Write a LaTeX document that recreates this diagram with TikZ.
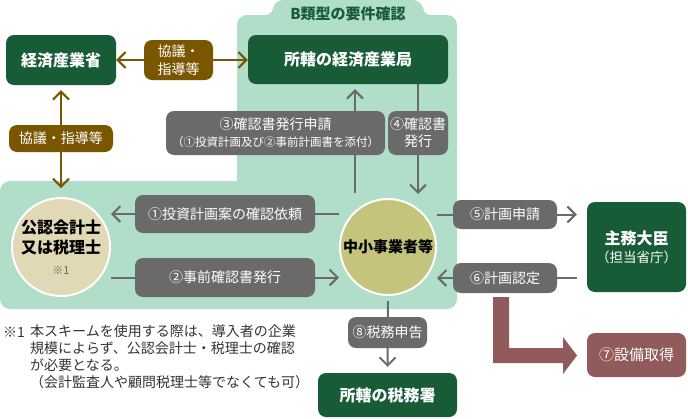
\documentclass[tikz,border=0pt]{standalone}
\usepackage{fontspec}
\setmainfont{Noto Sans CJK JP}
\usetikzlibrary{arrows.meta}
\definecolor{dgreen}{HTML}{175C37}
\definecolor{lgreen}{HTML}{B0DEC8}
\definecolor{brownc}{HTML}{7A5600}
\definecolor{grayc}{HTML}{6A6A6A}
\definecolor{beige}{HTML}{E1D9B5}
\definecolor{olive}{HTML}{C4C47C}
\definecolor{rose}{HTML}{905B5A}
\definecolor{notec}{HTML}{333333}
\pgfdeclarelayer{bg}
\pgfdeclarelayer{lines}
\pgfsetlayers{bg,lines,main}
\begin{document}
\begin{tikzpicture}[x=1pt,y=-1pt,
  gbox/.style={fill=dgreen,rounded corners=8pt,text=white,font=\fontsize{16}{19}\selectfont\bfseries,inner sep=0pt,align=center},
  glabel/.style={fill=grayc,rounded corners=8pt,text=white,font=\fontsize{14}{17}\selectfont,inner sep=0pt,align=center},
  blabel/.style={fill=brownc,rounded corners=8pt,text=white,font=\fontsize{14}{18}\selectfont,inner sep=0pt,align=center},
  circ/.style={circle,draw=white,line width=2pt,inner sep=0pt,align=center,text=black,font=\fontsize{16}{20}\selectfont\bfseries},
  tipb/.style={Straight Barb[length=8pt,width=16pt]},
  garr/.style={draw=grayc,line width=2pt,-{Straight Barb[length=8pt,width=16pt]}},
  barr/.style={draw=brownc,line width=2pt,{Straight Barb[length=8pt,width=16pt]}-{Straight Barb[length=8pt,width=16pt]}},
]
\useasboundingbox (0,0) rectangle (688,418);

% green region
\begin{pgfonlayer}{bg}
\fill[lgreen, rounded corners=10pt] (237,15) rectangle (457,200);
\fill[lgreen, rounded corners=10pt] (0,181) rectangle (457,309);
\fill[lgreen, rounded corners=10pt] (273,0) rectangle (423,30);
\fill[lgreen] (265,7) rectangle (273,15);
\fill[white] (265,7) circle (8pt);
\fill[lgreen] (423,7) rectangle (431,15);
\fill[white] (431,7) circle (8pt);
\end{pgfonlayer}
\node[text=dgreen,font=\fontsize{15}{18}\selectfont\bfseries] (title) at (348,14) {B類型の要件確認};

% main nodes
\node[gbox,minimum width=110pt,minimum height=50pt] (keizai) at (61,60) {経済産業省};
\node[gbox,minimum width=200pt,minimum height=49pt] (kyoku) at (348,59.5) {所轄の経済産業局};
\node[circ,fill=beige,minimum size=98pt] (kounin) at (61,247) {公認会計士\\又は税理士\\[1pt]{\mdseries\fontsize{11}{13}\selectfont\color{grayc}※1}};
\node[circ,fill=olive,minimum size=96pt,font=\fontsize{15}{18}\selectfont\bfseries] (chu) at (388,247) {中小事業者等};
\node[gbox,minimum width=99pt,minimum height=90pt,font=\fontsize{16}{18}\selectfont\bfseries] (shumu) at (636.5,247) {主務大臣\\{\mdseries\fontsize{13.5}{16}\selectfont（担当省庁）}};
\node[fill=rose,rounded corners=8pt,text=white,inner sep=0pt,minimum width=99pt,minimum height=44pt,font=\fontsize{15}{18}\selectfont] (setsubi) at (636.5,355) {⑦設備取得};
\node[gbox,minimum width=139pt,minimum height=44pt] (zeimu) at (387.5,395) {所轄の税務署};

% labels
\node[blabel,minimum width=69pt,minimum height=40pt] (k1) at (178.5,60) {協議・\\指導等};
\node[blabel,minimum width=104pt,minimum height=27pt] (k2) at (61,138.5) {協議・指導等};
\node[glabel,minimum width=180pt,minimum height=38pt] (l1) at (225,214) {①投資計画案の確認依頼};
\node[glabel,minimum width=180pt,minimum height=39pt] (l2) at (225,277.5) {②事前確認書発行};
\node[glabel,minimum width=219pt,minimum height=44pt] (l3) at (275.5,133) {③確認書発行申請\\{\fontsize{11.5}{14}\selectfont（①投資計画及び②事前計画書を添付）}};
\node[glabel,minimum width=60pt,minimum height=44pt] (l4) at (418,133) {④確認書\\発行};
\node[glabel,minimum width=104pt,minimum height=29pt] (l5) at (505,214.5) {⑤計画申請};
\node[glabel,minimum width=104pt,minimum height=30pt] (l6) at (505,278) {⑥計画認定};
\node[glabel,minimum width=79pt,minimum height=31pt] (l8) at (387.5,332.5) {⑧税務申告};

% footnote
\node[anchor=west,inner sep=0pt,text=notec,font=\fontsize{14}{17}\selectfont] (fnmark) at (3,332) {※1};
\node[anchor=north west,inner sep=0pt,text=notec,font=\fontsize{14}{17}\selectfont,align=left] (fn) at (30,324) {本スキームを使用する際は、導入者の企業\\規模によらず、公認会計士・税理士の確認\\が必要となる。\\（会計監査人や顧問税理士等でなくても可）};

% connectors
\begin{pgfonlayer}{lines}
\draw[barr] (keizai.east) -- (keizai.east -| kyoku.west);
\draw[barr,shorten <=5pt,shorten >=9pt] (keizai.south) -- (kounin.north);
\draw[garr] (chu.west |- l1.east) -- (kounin.east |- l1.east);
\draw[garr] (kounin.east |- l2.west) -- (chu.west |- l2.west);
\draw[garr,shorten >=5pt] ([xshift=-33pt,yshift=5pt]chu.north) -- ([xshift=-33pt]chu.north |- kyoku.south);
\draw[garr] ([xshift=30pt]chu.north |- kyoku.south) -- ([xshift=30pt,yshift=4pt]chu.north);
\draw[garr,shorten >=10pt] (chu.east |- l5.west) -- (shumu.west |- l5.west);
\draw[garr,shorten <=10pt] (shumu.west |- l6.east) -- (chu.east |- l6.east);
\draw[garr,shorten <=5pt,shorten >=6pt] (chu.south) -- (zeimu.north);
\fill[rose] (493,297) -- (509,297) -- (509,348) -- (563,348) -- (563,337) -- (577,355.5) -- (563,374) -- (563,363) -- (493,363) -- cycle;
\end{pgfonlayer}
\end{tikzpicture}
\end{document}
